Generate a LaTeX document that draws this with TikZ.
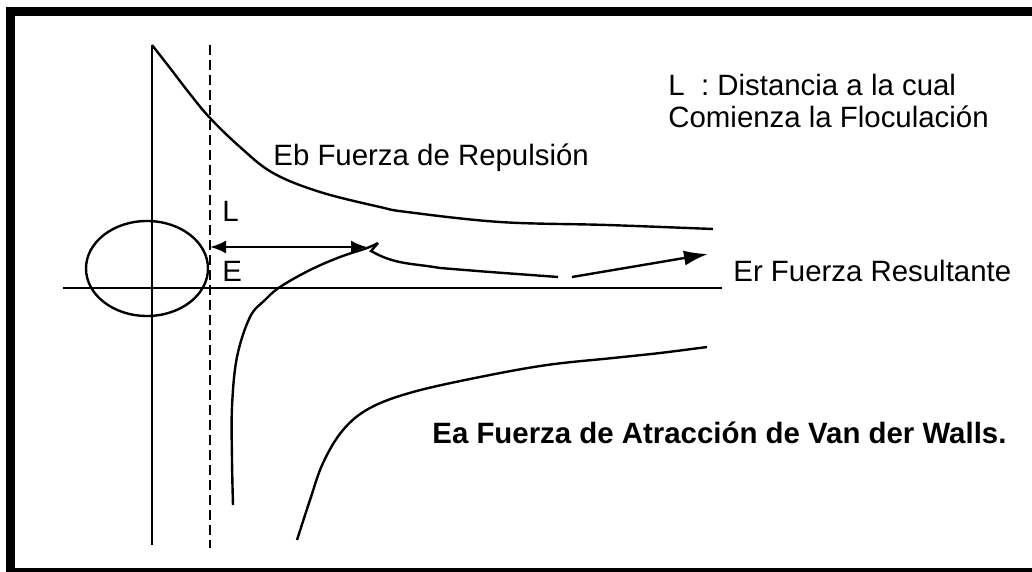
\documentclass[tikz,border=0pt]{standalone}
\usepackage{fontspec}
\setmainfont{Liberation Sans}
\usetikzlibrary{arrows.meta,shapes.geometric}

\tikzset{
  curva/.style={line width=1.2pt},
  rotulo/.style={anchor=west, inner sep=0pt, font=\fontsize{14.7}{16}\selectfont},
  flecha/.style={line width=1.2pt, -{Latex[length=12pt,width=7.5pt]}},
  cota/.style={line width=1.2pt, {Latex[length=8pt,width=6.5pt]}-{Latex[length=8pt,width=6.5pt]}},
}

\begin{document}
\begin{tikzpicture}[x=0.5pt, y=-0.5pt]

	\useasboundingbox (0,0) rectangle (1032,572);
	\clip (0,0) rectangle (1032,572);

	% marco
	\draw[line width=4.5pt] (1045,11.5) -- (10,11.5) -- (10,572) -- (1045,572);

	% ejes
	\coordinate (ejeizq) at (63,288);
	\coordinate (ejeder) at (722,288);
	\coordinate (ejesup) at (152,45);
	\coordinate (ejeinf) at (152,545);
	\draw[line width=1.2pt] (ejeizq) -- (ejeder);
	\draw[line width=1.2pt] (ejesup) -- (ejeinf);

	% particula
	\node[draw, ellipse, line width=1.2pt, minimum width=61pt, minimum height=47.5pt, inner sep=0pt] (part) at (147,268.5) {};

	% distancia L
	\coordinate (lsup) at (210,45);
	\coordinate (linf) at (210,548);
	\draw[line width=1.2pt, dash pattern=on 5pt off 2.5pt] (lsup) -- (linf);

	% Eb
	\draw[curva] plot[smooth, tension=0.6] coordinates {(152,45) (170,68) (190,94) (210,118) (240,147) (273,173) (320,192) (380,207) (407,212) (500,222) (607,225) (713,229)};

	% Er
	\coordinate (cuspide) at (378,243);
	\draw[curva] plot[smooth, tension=0.6] coordinates {(233,505) (232,460) (232,407) (237,357) (250,317) (265,300) (280,287) (310,270) (340,257) (367,248) (378,243)};
	\draw[curva] (cuspide) -- (371,251) to[out=-30,in=170] (440,268) -- (490,272) -- (558,277);
	\coordinate (erini) at (572,277);
	\coordinate (erfin) at (708,254);
	\draw[flecha] (erini) -- (erfin);

	% Ea
	\draw[curva] plot[smooth, tension=0.6] coordinates {(297,540) (310,500) (323,463) (343,430) (370,408) (413,392) (480,377) (547,365) (613,358) (660,353) (707,347)};

	% flecha L
	\coordinate (lizq) at (210,247);
	\coordinate (lder) at (367,247);
	\draw[cota] (lizq) -- (lder);

	% textos
	\node[rotulo] (def1) at (668,85) {L~~: Distancia a la cual};
	\node[rotulo] (def2) at (668,117) {Comienza la Floculación};
	\node[rotulo] (eb) at (273,158) {Eb Fuerza de Repulsión};
	\node[rotulo] (l) at (222,211) {L};
	\node[rotulo] (e) at (222,271) {E};
	\node[rotulo] (er) at (733,271) {Er Fuerza Resultante};
	\node[rotulo, font=\fontsize{14.7}{16}\selectfont\bfseries] (ea) at (432,433) {Ea Fuerza de Atracción de Van der Walls.};

\end{tikzpicture}
\end{document}
